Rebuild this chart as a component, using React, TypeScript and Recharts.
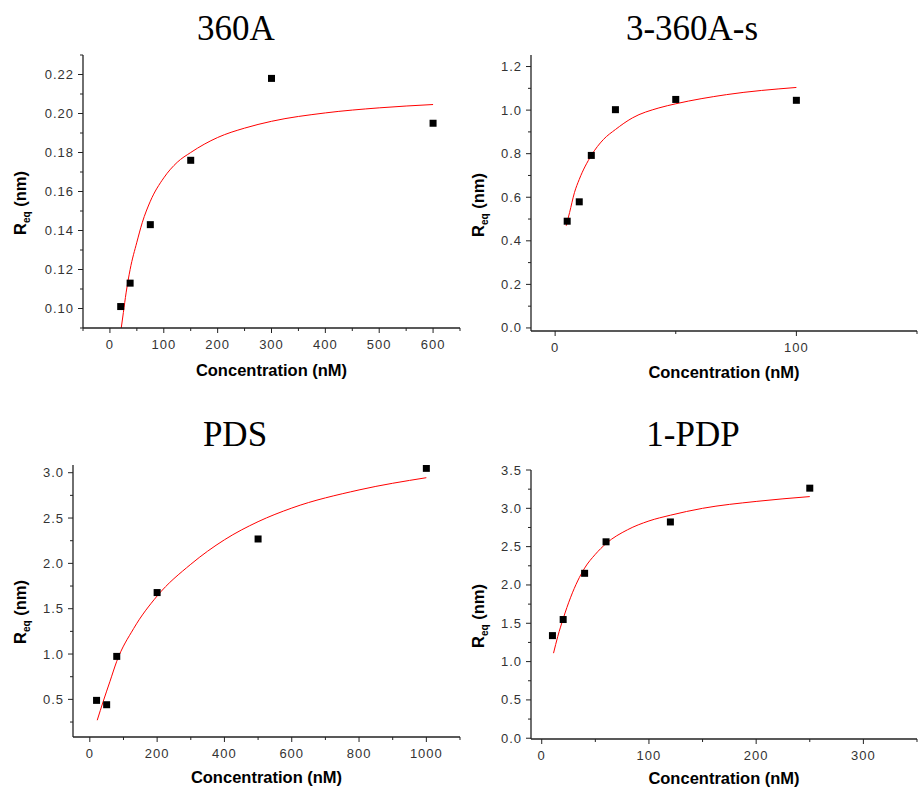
import { ComposedChart, Line, Scatter, XAxis, YAxis } from "recharts";

// --- data ---
const conc360A = [20, 37.5, 75, 150, 300, 600];
const req360A = [0.101, 0.113, 0.143, 0.176, 0.218, 0.195];
const fitConc360A = [21, 25, 30, 37.5, 50, 60, 75, 100, 125, 150, 200, 250, 300, 400, 500, 600];
const fitReq360A = [0.09, 0.098, 0.108, 0.12, 0.134, 0.144, 0.155, 0.167, 0.175, 0.18, 0.1877, 0.1925, 0.196, 0.2003, 0.2029, 0.2046];

const conc3s = [5, 10, 15, 25, 50, 100];
const req3s = [0.49, 0.579, 0.792, 1.002, 1.049, 1.045];
const fitConc3s = [4.6, 6, 8, 10, 15, 20, 25, 32, 43, 50, 71, 100];
const fitReq3s = [0.469, 0.53, 0.621, 0.682, 0.792, 0.865, 0.911, 0.964, 1.01, 1.029, 1.071, 1.104];

const concPDS = [20, 50, 80, 200, 500, 1000];
const reqPDS = [0.489, 0.441, 0.974, 1.678, 2.269, 3.048];
const fitConcPDS = [22, 40, 60, 80, 130, 200, 300, 400, 500, 600, 800, 1000];
const fitReqPDS = [0.27, 0.48, 0.7, 0.92, 1.28, 1.64, 1.99, 2.26, 2.46, 2.61, 2.81, 2.945];

const concPDP = [10, 20, 40, 60, 120, 250];
const reqPDP = [1.339, 1.549, 2.152, 2.563, 2.822, 3.263];
const fitConcPDP = [11, 15, 20, 27, 40, 50, 60, 80, 100, 120, 150, 200, 250];
const fitReqPDP = [1.11, 1.33, 1.56, 1.84, 2.22, 2.4, 2.54, 2.72, 2.835, 2.91, 3.0, 3.09, 3.153];

const titles = ["360A", "3-360A-s", "PDS", "1-PDP"];

// tick values (major = labelled)
const xMajor360A = [0, 100, 200, 300, 400, 500, 600];
const xMinor360A = [-50, 50, 150, 250, 350, 450, 550, 650];
const yMajor360A = [0.1, 0.12, 0.14, 0.16, 0.18, 0.2, 0.22];
const yMinor360A = [0.09, 0.11, 0.13, 0.15, 0.17, 0.19, 0.21, 0.23];

const xMajor3s = [0, 100];
const xMinor3s = [50, 150];
const yMajor3s = [0, 0.2, 0.4, 0.6, 0.8, 1.0, 1.2];
const yMinor3s = [0.1, 0.3, 0.5, 0.7, 0.9, 1.1];

const xMajorPDS = [0, 200, 400, 600, 800, 1000];
const xMinorPDS = [100, 300, 500, 700, 900, 1100];
const yMajorPDS = [0.5, 1.0, 1.5, 2.0, 2.5, 3.0];
const yMinorPDS = [0.25, 0.75, 1.25, 1.75, 2.25, 2.75];

const xMajorPDP = [0, 100, 200, 300];
const xMinorPDP = [50, 150, 250, 350];
const yMajorPDP = [0, 0.5, 1.0, 1.5, 2.0, 2.5, 3.0, 3.5];
const yMinorPDP = [0.25, 0.75, 1.25, 1.75, 2.25, 2.75, 3.25];

const zip = (xs: number[], ys: number[]) => xs.map((x, i) => ({ x, y: ys[i] }));

const W = 919;
const H = 787;
const AXW = 40; // y axis band width
const AXH = 30; // x axis band height
const tickFont = "'Liberation Sans', Arial, sans-serif";

const panels = [
  {
    title: titles[0],
    points: zip(conc360A, req360A),
    fit: zip(fitConc360A, fitReq360A),
    xDomain: [-50, 650],
    yDomain: [0.09, 0.23],
    xMajor: xMajor360A, xMinor: xMinor360A, yMajor: yMajor360A, yMinor: yMinor360A,
    yDigits: 2,
    plot: { left: 83, right: 460, top: 55, bottom: 328 },
    titlePos: [236, 40],
    xLabelY: 376,
    yLabelPos: [25.5, 203],
  },
  {
    title: titles[1],
    points: zip(conc3s, req3s),
    fit: zip(fitConc3s, fitReq3s),
    xDomain: [-10, 150],
    yDomain: [-0.014, 1.253],
    xMajor: xMajor3s, xMinor: xMinor3s, yMajor: yMajor3s, yMinor: yMinor3s,
    yDigits: 1,
    plot: { left: 531, right: 917, top: 55, bottom: 331 },
    titlePos: [692, 40],
    xLabelY: 378,
    yLabelPos: [484, 205],
  },
  {
    title: titles[2],
    points: zip(concPDS, reqPDS),
    fit: zip(fitConcPDS, fitReqPDS),
    xDomain: [-50, 1100],
    yDomain: [0.085, 3.085],
    xMajor: xMajorPDS, xMinor: xMinorPDS, yMajor: yMajorPDS, yMinor: yMinorPDS,
    yDigits: 1,
    plot: { left: 73, right: 460, top: 465, bottom: 737 },
    titlePos: [235, 446],
    xLabelY: 783,
    yLabelPos: [25.5, 612],
  },
  {
    title: titles[3],
    points: zip(concPDP, reqPDP),
    fit: zip(fitConcPDP, fitReqPDP),
    xDomain: [-10, 350],
    yDomain: [-0.01, 3.5],
    xMajor: xMajorPDP, xMinor: xMinorPDP, yMajor: yMajorPDP, yMinor: yMinorPDP,
    yDigits: 1,
    plot: { left: 531, right: 917, top: 470, bottom: 739 },
    titlePos: [693, 446],
    xLabelY: 784,
    yLabelPos: [484, 616],
  },
];

const isMajor = (list: number[], v: number) => list.some((m) => Math.abs(m - v) < 1e-9);

function XTick(props: any) {
  const { x, y, payload, major } = props;
  const big = isMajor(major, payload.value);
  return (
    <g>
      <line x1={x} y1={y} x2={x} y2={y + (big ? 5 : 3)} stroke="#222" strokeWidth={1} />
      {big && (
        <text x={x} y={y + 21} textAnchor="middle" fontFamily={tickFont} fontSize={13} letterSpacing={1} fill="#333">
          {payload.value}
        </text>
      )}
    </g>
  );
}

function YTick(props: any) {
  const { x, y, payload, major, digits } = props;
  const big = isMajor(major, payload.value);
  return (
    <g>
      <line x1={x} y1={y} x2={x - (big ? 5 : 3)} y2={y} stroke="#222" strokeWidth={1} />
      {big && (
        <text x={x - 9} y={y + 4.5} textAnchor="end" fontFamily={tickFont} fontSize={13} letterSpacing={1} fill="#333">
          {payload.value.toFixed(digits)}
        </text>
      )}
    </g>
  );
}

const Square = (props: any) => {
  const { cx, cy } = props;
  return <rect x={cx - 3.5} y={cy - 3.5} width={7} height={7} fill="#000" />;
};

function Panel({ p }: { p: (typeof panels)[number] }) {
  const xTicks = [...p.xMajor, ...p.xMinor].sort((a, b) => a - b);
  const yTicks = [...p.yMajor, ...p.yMinor].sort((a, b) => a - b);
  return (
    <div style={{ position: "absolute", left: 0, top: 0 }}>
      <ComposedChart
        width={W}
        height={H}
        margin={{
          left: p.plot.left - AXW,
          top: p.plot.top,
          right: W - p.plot.right,
          bottom: H - p.plot.bottom - AXH,
        }}
      >
        <XAxis
          type="number"
          dataKey="x"
          domain={p.xDomain}
          ticks={xTicks}
          allowDataOverflow
          height={AXH}
          tickSize={0}
          tickMargin={0}
          tickLine={false}
          axisLine={{ stroke: "#222", strokeWidth: 1.3 }}
          tick={<XTick major={p.xMajor} />}
          interval={0}
        />
        <YAxis
          type="number"
          dataKey="y"
          domain={p.yDomain}
          ticks={yTicks}
          allowDataOverflow
          width={AXW}
          tickSize={0}
          tickMargin={0}
          tickLine={false}
          axisLine={{ stroke: "#222", strokeWidth: 1.3 }}
          tick={<YTick major={p.yMajor} digits={p.yDigits} />}
          interval={0}
        />
        <Line
          data={p.fit}
          dataKey="y"
          type="monotone"
          stroke="#ff0000"
          strokeWidth={1}
          dot={false}
          isAnimationActive={false}
        />
        <Scatter data={p.points} dataKey="y" shape={Square} isAnimationActive={false} />
      </ComposedChart>
    </div>
  );
}

export default function App() {
  return (
    <div style={{ position: "absolute", left: 0, top: 0, width: W, height: H, background: "#fff" }}>
      {panels.map((p) => (
        <Panel key={p.title} p={p} />
      ))}
      <svg width={W} height={H} style={{ position: "absolute", left: 0, top: 0, pointerEvents: "none" }}>
        {panels.map((p) => {
          const cx = (p.plot.left + p.plot.right) / 2;
          return (
            <g key={p.title}>
              <text
                x={p.titlePos[0]}
                y={p.titlePos[1]}
                textAnchor="middle"
                fontFamily="'Liberation Serif', 'Times New Roman', serif"
                fontSize={35}
                fill="#000"
              >
                {p.title}
              </text>
              <text
                x={cx}
                y={p.xLabelY}
                textAnchor="middle"
                fontFamily={tickFont}
                fontWeight="bold"
                fontSize={16.5}
                fill="#000"
              >
                Concentration (nM)
              </text>
              <text
                transform={`translate(${p.yLabelPos[0]},${p.yLabelPos[1]}) rotate(-90)`}
                textAnchor="middle"
                fontFamily={tickFont}
                fontWeight="bold"
                fontSize={16.5}
                fill="#000"
              >
                R
                <tspan fontSize={10} dy={4}>eq</tspan>
                <tspan dy={-4}> (nm)</tspan>
              </text>
            </g>
          );
        })}
      </svg>
    </div>
  );
}
